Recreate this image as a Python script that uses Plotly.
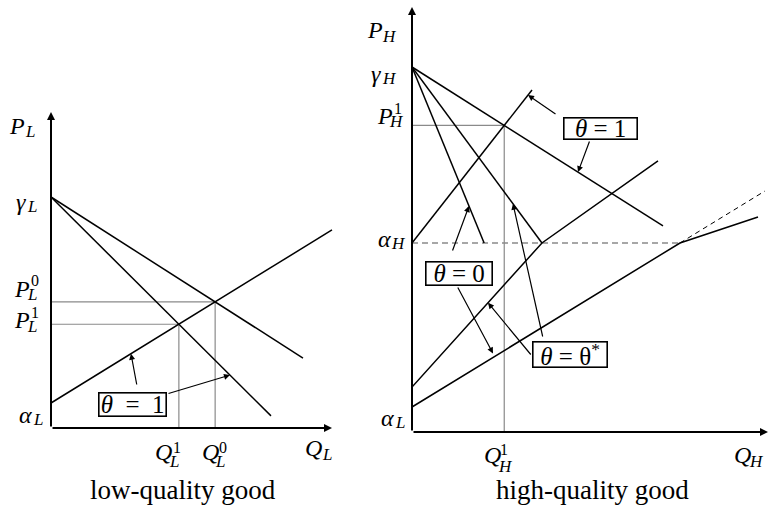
import numpy as np
import plotly.graph_objects as go

W, H = 769, 513
FONT = "Liberation Serif"

# ---------------- low-quality good ----------------
alpha_L = 2.5                 # supply intercept
gamma_L = 23.1                # demand intercept
supply_L_slope = 0.616
supply_L_end = 28.1
demand_L_slopes = [0.639, 0.995]   # theta = 0, theta = 1
demand_L_ends = [25.2, 22.0]

# ---------------- high-quality good ----------------
alpha_H = 18.9
gamma_H = 36.5
supply_H1_slope = 1.275            # theta = 1 supply
supply_H1_end = 12.0
supply_Hs_intercept = 4.5          # theta = theta* supply (kinked at alpha_H)
supply_Hs_slopes = [1.108, 0.707]
supply_Hs_end = 24.6
supply_H0_slopes = [0.612, 0.333]  # theta = 0 supply (kinked at alpha_H)
supply_H0_end = 34.6
supply_H0_ext_end = 35.3
demand_H1_slope = 0.633            # theta = 1 demand
demand_H1_end = 25.1
demand_H0_slope = 2.44             # theta = 0 demand

# ---------------- derived quantities ----------------
Q_L0 = (gamma_L - alpha_L) / (demand_L_slopes[0] + supply_L_slope)
P_L0 = alpha_L + supply_L_slope * Q_L0
Q_L1 = (gamma_L - alpha_L) / (demand_L_slopes[1] + supply_L_slope)
P_L1 = alpha_L + supply_L_slope * Q_L1

Q_kink_s = (alpha_H - supply_Hs_intercept) / supply_Hs_slopes[0]
demand_Hs_slope = (gamma_H - alpha_H) / Q_kink_s
Q_end_D0 = (gamma_H - alpha_H) / demand_H0_slope
Q_kink_0 = (alpha_H - alpha_L) / supply_H0_slopes[0]
Q_H1 = (gamma_H - alpha_H) / (demand_H1_slope + supply_H1_slope)
P_H1 = alpha_H + supply_H1_slope * Q_H1


def S_L(q):
    return alpha_L + supply_L_slope * q


def D_L(q, k):
    return gamma_L - demand_L_slopes[k] * q


def S_H1(q):
    return alpha_H + supply_H1_slope * q


def S_Hs(q):
    if q <= Q_kink_s:
        return supply_Hs_intercept + supply_Hs_slopes[0] * q
    return alpha_H + supply_Hs_slopes[1] * (q - Q_kink_s)


def S_H0(q):
    if q <= Q_kink_0:
        return alpha_L + supply_H0_slopes[0] * q
    return alpha_H + supply_H0_slopes[1] * (q - Q_kink_0)


def D_H1(q):
    return gamma_H - demand_H1_slope * q


def D_Hs(q):
    return gamma_H - demand_Hs_slope * q


def D_H0(q):
    return gamma_H - demand_H0_slope * q


fig = go.Figure()

BLACK = dict(color="black", width=1.5)
GREY = dict(color="#8a8a8a", width=1.2)


def line(xs, ys, panel, style=BLACK, dash=None):
    st = dict(style)
    if dash:
        st["dash"] = dash
    fig.add_trace(go.Scatter(
        x=list(xs), y=list(ys), mode="lines", line=st,
        xaxis="x" if panel == 1 else "x2", yaxis="y" if panel == 1 else "y2",
        hoverinfo="skip", showlegend=False))


# ---- left panel curves ----
line([0, Q_L0, Q_L0], [P_L0, P_L0, 0], 1, GREY)
line([0, Q_L1, Q_L1], [P_L1, P_L1, 0], 1, GREY)
line([0, supply_L_end], [S_L(0), S_L(supply_L_end)], 1)
for k in range(2):
    line([0, demand_L_ends[k]], [D_L(0, k), D_L(demand_L_ends[k], k)], 1)

# ---- right panel curves ----
line([0, Q_kink_0], [alpha_H, alpha_H], 2, dict(color="#8a8a8a", width=1.5), dash="6px,4px")
line([0, Q_H1, Q_H1], [P_H1, P_H1, 0], 2, GREY)
line([0, supply_H1_end], [S_H1(0), S_H1(supply_H1_end)], 2)
line([0, Q_kink_s, supply_Hs_end], [S_Hs(0), S_Hs(Q_kink_s), S_Hs(supply_Hs_end)], 2)
line([0, Q_kink_0, supply_H0_end], [S_H0(0), S_H0(Q_kink_0), S_H0(supply_H0_end)], 2)
line([Q_kink_0, supply_H0_ext_end],
     [alpha_H, alpha_H + supply_H0_slopes[0] * (supply_H0_ext_end - Q_kink_0)], 2,
     dict(color="black", width=1.0), dash="5px,4px")
line([0, demand_H1_end], [D_H1(0), D_H1(demand_H1_end)], 2)
line([0, Q_kink_s], [D_Hs(0), D_Hs(Q_kink_s)], 2)
line([0, Q_end_D0], [D_H0(0), D_H0(Q_end_D0)], 2)

ann = []


def arrow(panel, tip, tail, width=1.2, head=2, size=1.0):
    xr, yr = ("x", "y") if panel == 1 else ("x2", "y2")
    ann.append(dict(x=tip[0], y=tip[1], ax=tail[0], ay=tail[1], xref=xr, yref=yr,
                    axref=xr, ayref=yr, text="", showarrow=True, arrowhead=head,
                    arrowsize=size, arrowwidth=width, arrowcolor="black",
                    standoff=0, startstandoff=0))


def text(s, x, y, size=24, xref="paper", yref="paper", dx=0, dy=0):
    if xref == "paper":
        x = x / W
    if yref == "paper":
        y = 1 - y / H
    ann.append(dict(text=s, x=x, y=y, xref=xref, yref=yref, xshift=dx, yshift=dy,
                    showarrow=False, xanchor="center", yanchor="middle",
                    font=dict(family=FONT, size=size, color="black")))


def box(s, x, y, w, h, size=25):
    ann.append(dict(text=s, x=x / W, y=1 - y / H, xref="paper", yref="paper",
                    showarrow=False, xanchor="center", yanchor="middle",
                    width=w, height=h, align="center", valign="middle",
                    bordercolor="black", borderwidth=1.6, borderpad=0,
                    bgcolor="white", font=dict(family=FONT, size=size, color="black")))


def sym(base, sub, x, y, sup=None, xref="paper", yref="paper", dx=0, dy=0,
        sub_off=(13, -5), sup_off=(13, 8)):
    text(f"<i>{base}</i>", x, y, 24, xref, yref, dx, dy)
    text(f"<i>{sub}</i>", x, y, 17, xref, yref, dx + sub_off[0], dy + sub_off[1])
    if sup is not None:
        text(sup, x, y, 16, xref, yref, dx + sup_off[0], dy + sup_off[1])


# ---- axes (drawn as arrows) ----
arrow(1, (supply_L_end, 0), (0, 0), width=2, head=2, size=0.8)
arrow(1, (0, 31.6), (0, 0), width=2, head=2, size=0.8)
arrow(2, (35.6, 0), (0, 0), width=2, head=2, size=0.8)
arrow(2, (0, 42.5), (0, 0), width=2, head=2, size=0.8)

# ---- left panel labels ----
sym("P", "L", 17, 126)
sym("γ", "L", 0, gamma_L, yref="y", dx=21, dy=-5, sub_off=(11, -4))
sym("P", "L", 0, P_L0, sup="0", yref="y", dx=22, dy=13, sub_off=(10, -6), sup_off=(13, 8))
sym("P", "L", 0, P_L1, sup="1", yref="y", dx=22, dy=4, sub_off=(10, -6), sup_off=(13, 8))
sym("α", "L", 0, alpha_L, yref="y", dx=25, dy=-12, sub_off=(13, -4))
sym("Q", "L", Q_L1, 0, sup="1", xref="x", yref="y", dx=-15, dy=-24, sub_off=(10, -9), sup_off=(13, 5))
sym("Q", "L", Q_L0, 0, sup="0", xref="x", yref="y", dx=-5, dy=-24, sub_off=(10, -9), sup_off=(13, 5))
sym("Q", "L", 313, 448, sub_off=(14, -6))
text("low-quality good", 183, 490, 27)

# ---- right panel labels ----
sym("P", "H", 375, 30, sub_off=(14, -6))
sym("γ", "H", 0, gamma_H, yref="y2", dx=376, dy=-7, sub_off=(13, -4))
sym("P", "H", 0, P_H1, sup="1", yref="y2", dx=385, dy=9, sub_off=(11, -5), sup_off=(13, 8))
sym("α", "H", 0, alpha_H, yref="y2", dx=384, dy=4, sub_off=(14, -4))
sym("α", "L", 0, alpha_L, yref="y2", dx=387, dy=-11, sub_off=(13, -4))
sym("Q", "H", Q_H1, 0, sup="1", xref="x2", yref="y2", dx=-12, dy=-23, sub_off=(13, -11), sup_off=(12, 6))
sym("Q", "H", 742, 455, sub_off=(14, -6))
text("high-quality good", 592, 490, 27)

# ---- annotation boxes and pointers ----
box("<i>θ</i>  =  1", 132.5, 404.5, 66, 22)
arrow(1, (8.0, S_L(8.0)), (8.6, 4.2))
arrow(1, (17.9, D_L(17.9, 1)), (11.6, 3.4))

box("<i>θ</i> = 1", 600.5, 128.5, 72, 20)
arrow(2, (11.6, S_H1(11.6)), (14.5, 31.7))
arrow(2, (16.6, D_H1(16.6)), (17.8, 29.2))

box("<i>θ</i> = 0", 459, 273.5, 65, 22)
arrow(2, (5.7, D_H0(5.7)), (4.0, 18.0))
arrow(2, (8.1, S_H0(8.1) + 0.4), (4.5, 14.6))

box("<i>θ</i> = θ<sup>*</sup>", 570, 354.5, 73, 24)
arrow(2, (10.1, D_Hs(10.1)), (13.1, 9.4))
arrow(2, (7.6, S_Hs(7.6)), (12.0, 7.6))

fig.update_layout(
    width=W, height=H, margin=dict(l=0, r=0, t=0, b=0),
    paper_bgcolor="white", plot_bgcolor="white",
    font=dict(family=FONT),
    xaxis=dict(domain=[51 / W, 341 / W], range=[0, 29], visible=False, fixedrange=True),
    yaxis=dict(domain=[85 / H, 405 / H], range=[0, 32], visible=False, fixedrange=True),
    xaxis2=dict(domain=[412 / W, 1.0], range=[0, 35.7], visible=False, fixedrange=True),
    yaxis2=dict(domain=[81 / H, 1.0], range=[0, 43.2], visible=False, fixedrange=True),
    annotations=ann,
    showlegend=False,
)

fig.write_html("out.html")
